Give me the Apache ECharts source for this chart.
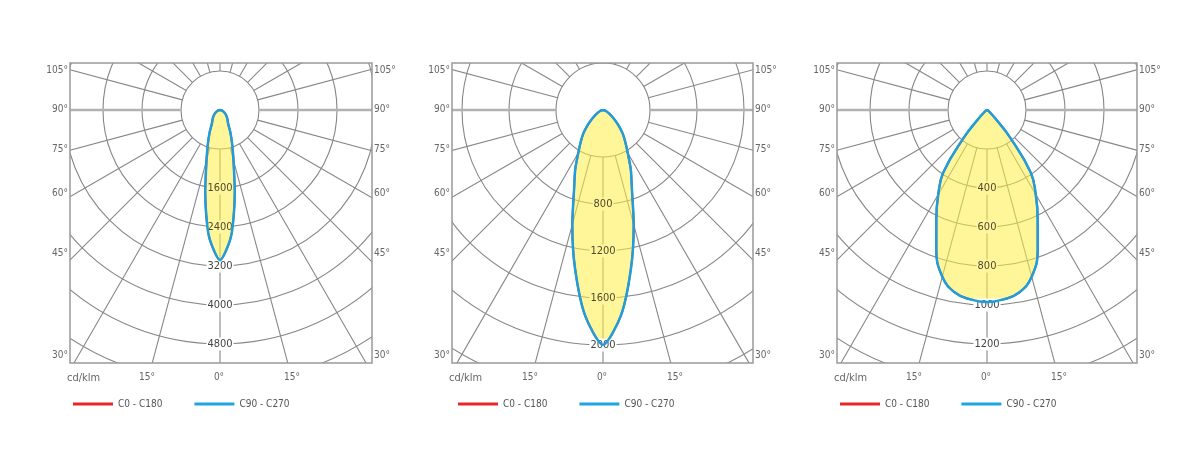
<!DOCTYPE html>
<html><head><meta charset="utf-8">
<script src="https://cdn.jsdelivr.net/npm/echarts@6/dist/echarts.min.js"></script>
<style>html,body{margin:0;padding:0;background:#fff}#wrap{position:relative;width:1200px;height:458px;overflow:hidden}.pc{position:absolute;top:0;height:458px}</style>
</head><body><div id="wrap"></div>
<script>
// ---- data ----
const angles = [0, 5, 10, 15, 20, 25, 30, 35, 40, 45, 50, 55, 60, 70, 80, 90];
const panel1Values = [3080, 2600, 1740, 1070, 720, 500, 340, 275, 235, 195, 160, 130, 100, 60, 30, 0];
const panel2Values = [2000, 1755, 1370, 1010, 720, 560, 420, 330, 260, 190, 130, 90, 60, 30, 10, 0];
const panel3Values = [985, 975, 950, 885, 760, 615, 500, 390, 185, 55, 22, 12, 8, 4, 2, 0];
const panel1RingLabels = [1600, 2400, 3200, 4000, 4800];
const panel2RingLabels = [800, 1200, 1600, 2000];
const panel3RingLabels = [400, 600, 800, 1000, 1200];
const ringSteps = [800, 400, 200];
const sideTickLabels = ['105°', '90°', '75°', '60°', '45°', '30°'];
const bottomTickLabels = ['15°', '0°', '15°'];
const unitLabel = 'cd/klm';
const legendNames = ['C0 - C180', 'C90 - C270'];

// ---- layout ----
const FONT = "'Liberation Sans Narrow','DejaVu Sans Condensed','Roboto',sans-serif";
const BOX_TOP = 63, BOX_BOTTOM = 363, H = 458;
const layout = [
  {x0: 0, x1: 412, cx: 220, cy: 110, left: 70, right: 372, ringPx: 39, legendLeft: 73, smooth: 0.25},
  {x0: 412, x1: 795, cx: 603, cy: 110, left: 452, right: 753, ringPx: 47, legendLeft: 458, smooth: 0.25},
  {x0: 795, x1: 1200, cx: 987, cy: 110, left: 837, right: 1137, ringPx: 39, legendLeft: 840, smooth: 0.45}
];
const sideLabelY = [70, 109, 149, 193, 253, 355];
const bottomLabelDx = [-73, -1, 72];
const panels = [
  {values: panel1Values, labels: panel1RingLabels, step: ringSteps[0]},
  {values: panel2Values, labels: panel2RingLabels, step: ringSteps[1]},
  {values: panel3Values, labels: panel3RingLabels, step: ringSteps[2]}
];
const RINGS = 8;
const GRID_COLOR = '#878787';
const FILL_BG = '#fff59b';

function curve(values) {
  const pts = [];
  for (let i = angles.length - 1; i >= 0; i--) pts.push([values[i], angles[i]]);
  for (let i = 1; i < angles.length; i++) pts.push([values[i], 360 - angles[i]]);
  return pts;
}

const wrap = document.getElementById('wrap');

panels.forEach((p, k) => {
  const L = layout[k];
  const W = L.x1 - L.x0, ox = L.x0;
  const div = document.createElement('div');
  div.className = 'pc';
  div.style.left = L.x0 + 'px';
  div.style.width = W + 'px';
  wrap.appendChild(div);

  const cx = L.cx - ox, left = L.left - ox, right = L.right - ox;
  const maxV = p.step * RINGS, outer = L.ringPx * RINGS;
  const peak = p.values[0];
  const graphics = [];

  // white masks outside the box
  [[0, 0, W, BOX_TOP], [0, BOX_BOTTOM, W, H - BOX_BOTTOM], [0, 0, left, H], [right, 0, W - right, H]]
    .forEach(m => graphics.push({type: 'rect', z: 10, silent: true,
      shape: {x: m[0], y: m[1], width: m[2], height: m[3]}, style: {fill: '#fff'}}));
  // box
  graphics.push({type: 'rect', z: 20, silent: true,
    shape: {x: left, y: BOX_TOP, width: right - left, height: BOX_BOTTOM - BOX_TOP},
    style: {fill: null, stroke: '#999', lineWidth: 1.5}});
  sideTickLabels.forEach((t, i) => {
    graphics.push({type: 'text', z: 21, silent: true, x: left - 2, y: sideLabelY[i],
      style: {text: t, align: 'right', verticalAlign: 'middle', fill: '#666', font: '10px ' + FONT}});
    graphics.push({type: 'text', z: 21, silent: true, x: right + 2, y: sideLabelY[i],
      style: {text: t, align: 'left', verticalAlign: 'middle', fill: '#666', font: '10px ' + FONT}});
  });
  bottomTickLabels.forEach((t, i) => {
    graphics.push({type: 'text', z: 21, silent: true, x: cx + bottomLabelDx[i], y: 377,
      style: {text: t, align: 'center', verticalAlign: 'middle', fill: '#666', font: '10px ' + FONT}});
  });
  graphics.push({type: 'text', z: 21, silent: true, x: left - 3, y: 378,
    style: {text: unitLabel, align: 'left', verticalAlign: 'middle', fill: '#666', font: '11px ' + FONT}});

  const series = [];
  [90, 270].forEach(a => series.push({type: 'line', coordinateSystem: 'polar', polarIndex: 0, silent: true,
    data: [[p.step, a], [maxV, a]], showSymbol: false, lineStyle: {color: '#b2b2b2', width: 2.5}, z: 1}));
  series.push({name: legendNames[0], type: 'line', coordinateSystem: 'polar', polarIndex: 1,
    data: curve(p.values), showSymbol: false, smooth: L.smooth,
    itemStyle: {color: '#e8262a'}, lineStyle: {color: '#e8262a', width: 2},
    areaStyle: {color: 'rgba(255,236,70,0.55)', opacity: 1}, z: 3});
  series.push({name: legendNames[1], type: 'line', coordinateSystem: 'polar', polarIndex: 1,
    data: curve(p.values), showSymbol: false, smooth: L.smooth,
    itemStyle: {color: '#1fa6e2'}, lineStyle: {color: '#1e9fdc', width: 2.5}, z: 6});

  const chart = echarts.init(div);
  chart.setOption({
    animation: false,
    backgroundColor: '#fff',
    polar: [
      {center: [cx, L.cy], radius: [L.ringPx, outer]},
      {center: [cx, L.cy], radius: [0, outer]}
    ],
    angleAxis: [
      {polarIndex: 0, type: 'value', min: 0, max: 360, interval: 15, startAngle: 270, clockwise: true,
        axisLine: {show: false}, axisTick: {show: false}, axisLabel: {show: false},
        splitLine: {show: true, lineStyle: {color: GRID_COLOR, width: 1.1}}, z: 0},
      {polarIndex: 1, type: 'value', min: 0, max: 360, startAngle: 270, clockwise: true, show: false}
    ],
    radiusAxis: [
      {polarIndex: 0, type: 'value', min: p.step, max: maxV, interval: p.step,
        axisLine: {show: false}, axisTick: {show: false}, axisLabel: {show: false},
        splitLine: {show: true, lineStyle: {color: GRID_COLOR, width: 1.1}}, z: 1},
      {polarIndex: 1, type: 'value', min: 0, max: maxV, interval: p.step,
        axisLine: {show: false}, axisTick: {show: false}, splitLine: {show: false},
        axisLabel: {show: true, margin: 0, align: 'center', verticalAlign: 'middle',
          formatter: v => p.labels.indexOf(v) < 0 ? '' : (v < peak ? '{y|' + v + '}' : '{w|' + v + '}'),
          rich: {
            y: {color: '#4f4a2a', fontSize: 11, fontFamily: FONT, backgroundColor: FILL_BG, padding: [1, 1]},
            w: {color: '#444', fontSize: 11, fontFamily: FONT, backgroundColor: '#fff', padding: [1, 1]}
          }}, z: 5}
    ],
    legend: {data: legendNames, left: L.legendLeft - ox, top: 399, padding: 0, icon: 'rect', itemWidth: 40, itemHeight: 3,
      itemGap: 32, selectedMode: false, z: 30, textStyle: {fontSize: 10, color: '#555', fontFamily: FONT}},
    series,
    graphic: {elements: graphics}
  });
});
</script></body></html>
